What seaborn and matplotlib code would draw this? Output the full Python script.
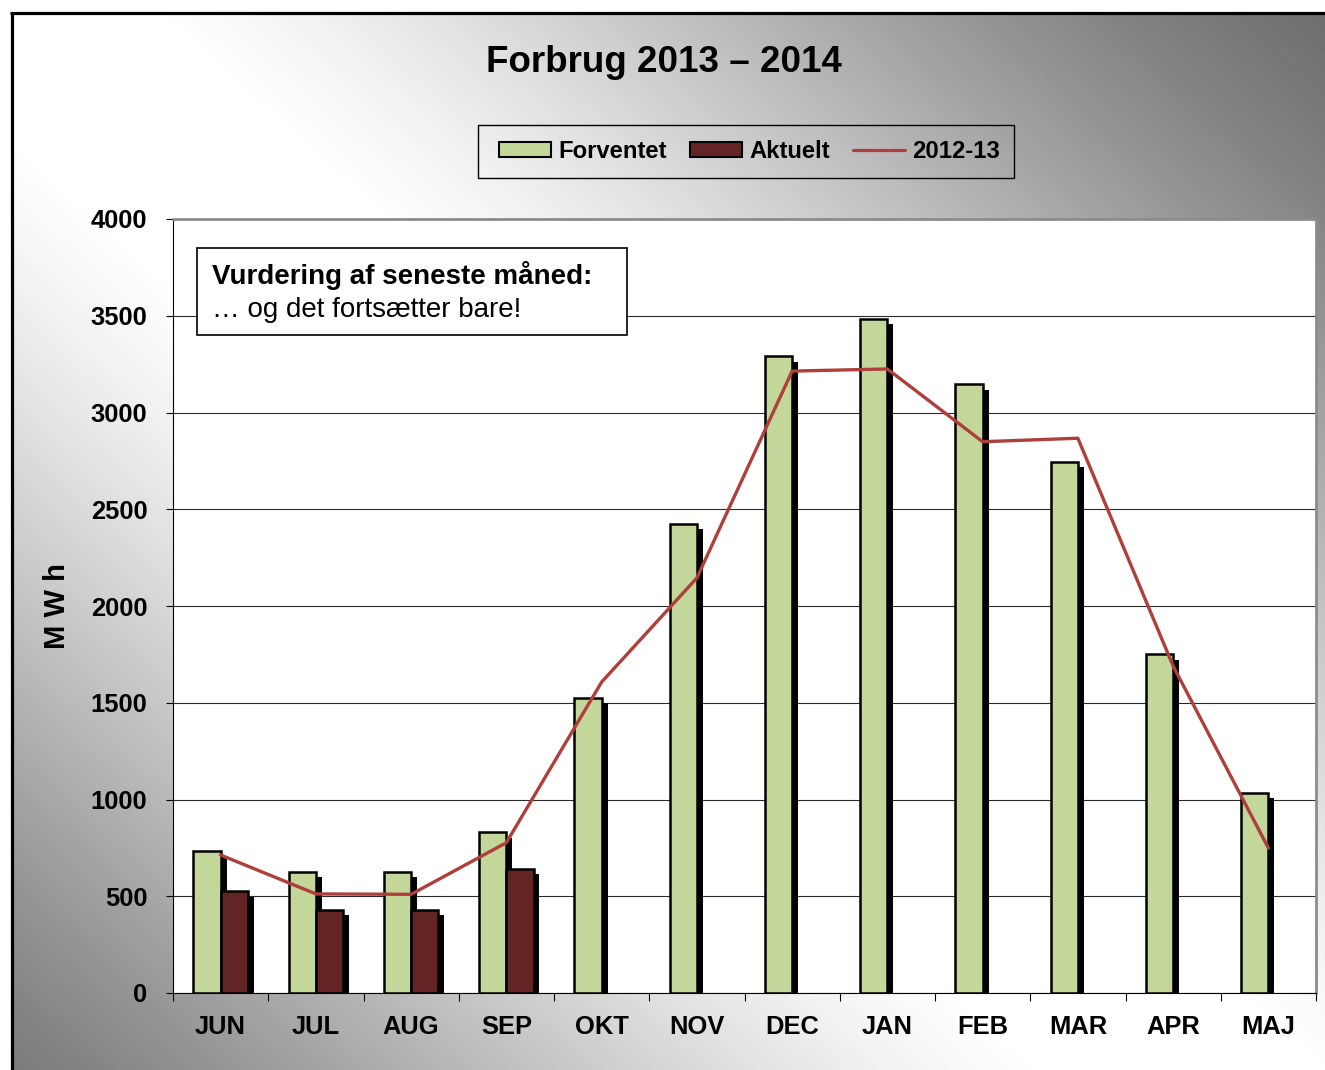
import numpy as np
import pandas as pd
import matplotlib
matplotlib.use("Agg")
import matplotlib.pyplot as plt
import matplotlib.patheffects as pe
from matplotlib.patches import Patch, Rectangle
from matplotlib.lines import Line2D
import seaborn as sns

# ---------------- data ----------------
months = ["JUN", "JUL", "AUG", "SEP", "OKT", "NOV", "DEC", "JAN", "FEB", "MAR", "APR", "MAJ"]
forventet = [735, 625, 625, 830, 1525, 2425, 3290, 3485, 3145, 2745, 1750, 1035]
aktuelt = [525, 430, 430, 640, None, None, None, None, None, None, None, None]
sidste_aar = [713, 512, 510, 777, 1607, 2145, 3214, 3225, 2849, 2867, 1690, 749]
series_names = ["Forventet", "Aktuelt", "2012-13"]
yticks = [0, 500, 1000, 1500, 2000, 2500, 3000, 3500, 4000]
title = "Forbrug 2013 – 2014"
ylabel = "M W h"
note_bold = "Vurdering af seneste måned:"
note_text = "… og det fortsætter bare!"

green = "#C4D79B"
dark = "#632523"
red = "#AE3F3B"

sns.set_style("ticks")
plt.rcParams["font.family"] = ["Liberation Sans", "DejaVu Sans"]
plt.rcParams["text.color"] = "black"
plt.rcParams["axes.labelcolor"] = "black"
plt.rcParams["xtick.color"] = "black"
plt.rcParams["ytick.color"] = "black"

W, H = 1325, 1070
fig = plt.figure(figsize=(W / 100, H / 100), dpi=100)
fig.patch.set_facecolor("white")

# ---------------- gradient background ----------------
bg = fig.add_axes([0, 0, 1, 1], zorder=-10)
yy, xx = np.mgrid[0:H, 0:W]
u = np.abs(xx / W - yy / 1200.0)
t = np.clip((u - 0.1) / 0.9, 0, 1)
ramp = t * t * (3 - 2 * t) * 0.45 + t * 0.55
v = 255 - 145 * ramp
v[(xx < 11) | (yy < 12)] = 255
bg.imshow(v, cmap="gray", vmin=0, vmax=255, extent=(0, W, H, 0),
          aspect="auto", interpolation="bilinear")
bg.set_xlim(0, W)
bg.set_ylim(H, 0)
bg.plot([11.5, 11.5], [12, H], color="black", lw=2.3, solid_capstyle="butt")
bg.plot([10, W], [13, 13], color="black", lw=2.3, solid_capstyle="butt")
bg.axis("off")

# ---------------- main axes ----------------
ax = fig.add_axes([173 / W, 1 - 993 / H, (1316 - 173) / W, (993 - 219) / H])
ax.set_facecolor("white")

rows = []
for m, f, a in zip(months, forventet, aktuelt):
    rows.append({"Måned": m, "Serie": series_names[0], "MWh": f})
    if a is not None:
        rows.append({"Måned": m, "Serie": series_names[1], "MWh": a})
df = pd.DataFrame(rows)

sns.barplot(data=df, x="Måned", y="MWh", hue="Serie", order=months,
            hue_order=series_names[:2], palette=[green, dark], width=0.57,
            edgecolor="black", linewidth=1.8, saturation=1, errorbar=None,
            legend=False, ax=ax)

for p in ax.patches:
    p.set_path_effects([pe.SimplePatchShadow(offset=(4.3, -3.8), shadow_rgbFace="black", alpha=1.0),
                        pe.Normal()])

sns.pointplot(x=months, y=sidste_aar, order=months, color=red, markers="none",
              linestyles="-", errorbar=None, linewidth=2.4, zorder=5, ax=ax)

ax.set_xlim(-0.5, len(months) - 0.5)
ax.set_ylim(0, 4000)
ax.set_yticks(yticks)
ax.set_yticklabels([str(t) for t in yticks])
ax.set_xticks(range(len(months)))
ax.set_xticklabels(months)
ax.set_xticks(np.arange(-0.5, len(months), 1.0), minor=True)
ax.tick_params(axis="x", which="major", length=0, pad=15.5, labelsize=18.4, labelcolor="black")
ax.tick_params(axis="x", which="minor", length=5.5, width=0.8, color="black", direction="out")
ax.tick_params(axis="y", length=5, width=0.8, color="black", direction="out", pad=13.5,
               labelsize=18.4, labelcolor="black")
for lab in ax.get_xticklabels() + ax.get_yticklabels():
    lab.set_fontweight("bold")

ax.yaxis.grid(True, color="#2a2a2a", lw=0.8)
ax.xaxis.grid(False)
ax.set_axisbelow(True)

for s in ["top", "right"]:
    ax.spines[s].set_color("#8c8c8c")
    ax.spines[s].set_linewidth(2)
for s in ["left", "bottom"]:
    ax.spines[s].set_color("black")
    ax.spines[s].set_linewidth(0.8)

ax.set_xlabel("")
ax.set_ylabel(ylabel, fontsize=21, fontweight="bold", color="black")
ax.yaxis.set_label_coords(-0.089, 0.5)

# note box
ax.add_patch(Rectangle((0.021, 0.8501), 0.3762, 0.1124, transform=ax.transAxes,
                       facecolor="white", edgecolor="black", lw=1.2, zorder=6))
ax.text(0.0341, 0.9165, note_bold, transform=ax.transAxes, fontsize=20,
        fontweight="bold", va="baseline", ha="left", color="black", zorder=7)
ax.text(0.0341, 0.8735, note_text, transform=ax.transAxes, fontsize=20,
        va="baseline", ha="left", color="black", zorder=7)

# legend
handles = [Patch(facecolor=green, edgecolor="black", lw=1.5),
           Patch(facecolor=dark, edgecolor="black", lw=1.5),
           Line2D([], [], color=red, lw=2.3)]
leg = fig.legend(handles, series_names, loc="center", bbox_to_anchor=(749.5 / W, 1 - 151.5 / H),
                 bbox_transform=fig.transFigure, ncol=3, frameon=False,
                 prop={"size": 17.2, "weight": "bold"}, handlelength=2.18, handleheight=0.63,
                 handletextpad=0.3, columnspacing=0.96, labelcolor="black")
fig.add_artist(Rectangle((478 / W, 1 - 178 / H), (1014 - 478) / W, 53 / H,
                         transform=fig.transFigure, fill=False, edgecolor="black", lw=1))

fig.text(663.5 / W, 1 - 72 / H, title, ha="center", va="baseline",
         fontsize=26.5, fontweight="bold", color="black")

fig.savefig("out.png", dpi=100)
